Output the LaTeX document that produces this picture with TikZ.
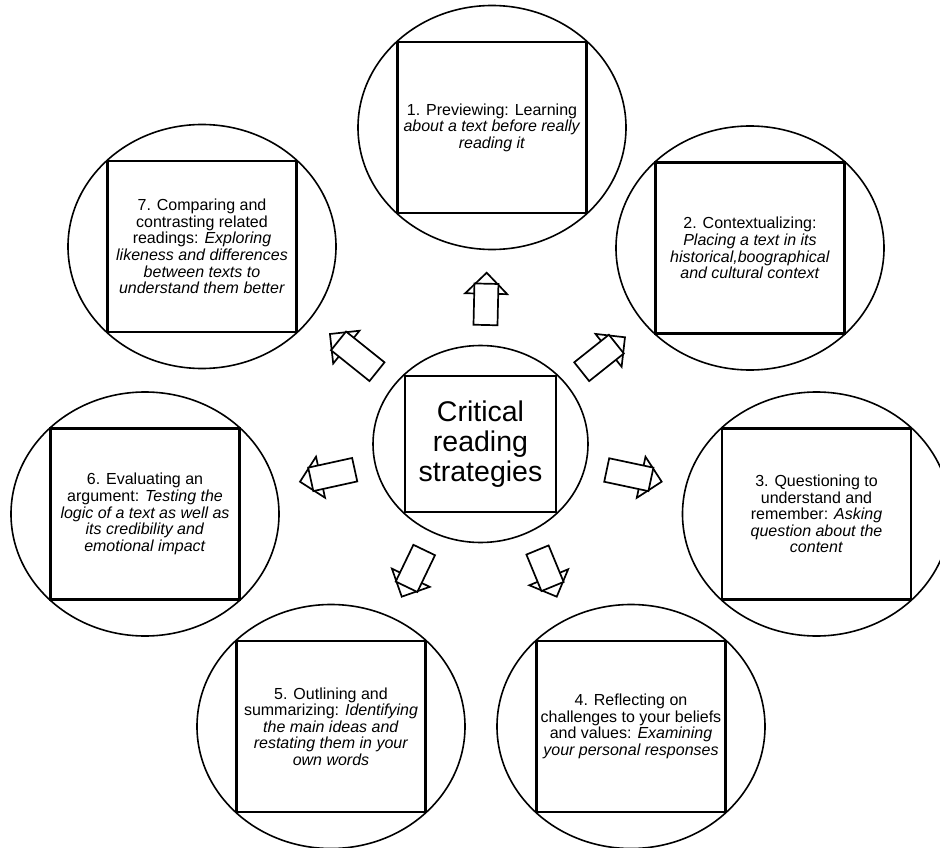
\documentclass[tikz,border=0pt]{standalone}
\usepackage{fontspec}
\setmainfont{Liberation Sans}
\usetikzlibrary{shapes.geometric}
\newcommand{\blockarr}[4]{%
  \begin{scope}[shift={(#1,#2)}, rotate=#3]
    \draw[arrline] (#4-21,-21) -- (#4,0) -- (#4-21,21) -- cycle;
    \draw[arrline, fill=white] (0,-12) rectangle (#4-11,12);
  \end{scope}}
\begin{document}
\begin{tikzpicture}[x=1pt,y=-1pt,
  outer/.style={ellipse, draw, line width=1.6pt, minimum width=268pt, minimum height=244pt, inner sep=0pt},
  box/.style={rectangle, draw, line width=2.4pt, minimum width=189pt, minimum height=171pt,
    align=center, inner sep=0pt, font=\fontsize{16}{16.6}\selectfont},
  arrline/.style={line width=1.7pt, line join=miter}]
\useasboundingbox (0,0) rectangle (940,848);
% outer ellipses
\node[outer] (e1) at (492,127.5) {};
\node[outer] (e2) at (750,248) {};
\node[outer] (e3) at (816.5,514) {};
\node[outer] (e4) at (631,726.5) {};
\node[outer] (e5) at (331,726.5) {};
\node[outer] (e6) at (145,514) {};
\node[outer] (e7) at (202,246.5) {};
% boxes
\node[box] (b1) at (e1) {1. Previewing: Learning\\ \textit{about a text before really}\\ \textit{reading it}};
\node[box] (b2) at (e2) {2. Contextualizing:\\ \textit{Placing a text in its}\\ \textit{historical,boographical}\\ \textit{and cultural context}};
\node[box] (b3) at (e3) {3. Questioning to\\ understand and\\ remember: \textit{Asking}\\ \textit{question about the}\\ \textit{content}};
\node[box] (b4) at (e4) {4. Reflecting on\\ challenges to your beliefs\\ and values: \textit{Examining}\\ \textit{your personal responses}};
\node[box] (b5) at (e5) {5. Outlining and\\ summarizing: \textit{Identifying}\\ \textit{the main ideas and}\\ \textit{restating them in your}\\ \textit{own words}};
\node[box] (b6) at (e6) {6. Evaluating an\\ argument: \textit{Testing the}\\ \textit{logic of a text as well as}\\ \textit{its credibility and}\\ \textit{emotional impact}};
\node[box] (b7) at (e7) {7. Comparing and\\ contrasting related\\ readings: \textit{Exploring}\\ \textit{likeness and differences}\\ \textit{between texts to}\\ \textit{understand them better}};
% centre
\node[ellipse, draw, line width=1.6pt, minimum width=215pt, minimum height=197pt, inner sep=0pt] (ec) at (480.5,444) {};
\node[rectangle, draw, line width=2.4pt, minimum width=151pt, minimum height=136pt, inner sep=0pt,
  align=center, font=\fontsize{28.5}{30}\selectfont] (bc) at (ec) {Critical\\ reading\\ strategies};
% block arrows (tail x, tail y, angle, length)
\blockarr{485.5}{325}{88.7}{52.3}
\blockarr{581.7}{371.7}{38.5}{55.3}
\blockarr{606.7}{470}{-12}{56.2}
\blockarr{537.5}{550}{-67.6}{50.5}
\blockarr{424.2}{550}{244.3}{51.8}
\blockarr{354.7}{469.7}{192.4}{56}
\blockarr{377}{371.7}{141.3}{60.3}
\end{tikzpicture}
\end{document}
